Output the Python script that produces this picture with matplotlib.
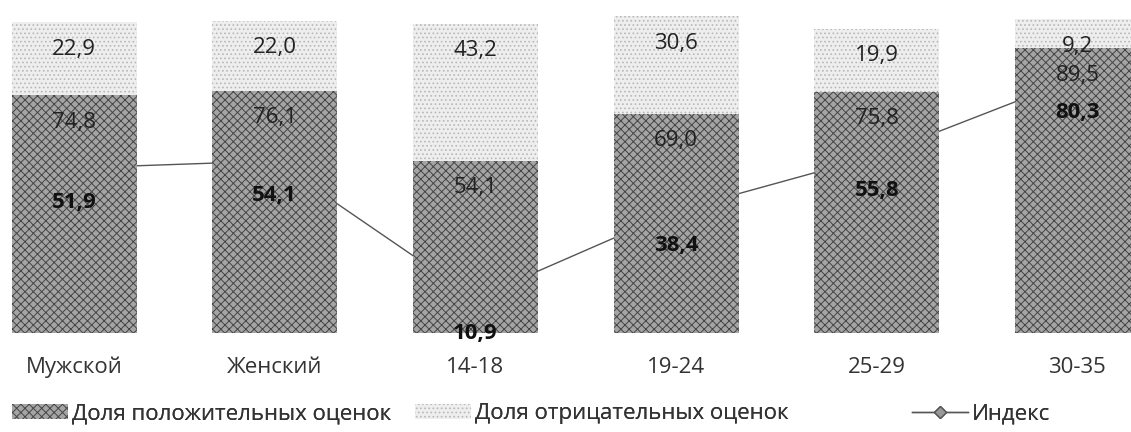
import matplotlib
matplotlib.use("Agg")
import matplotlib.pyplot as plt
from matplotlib.patches import Patch
from matplotlib.lines import Line2D

plt.rcParams['font.family'] = ['Open Sans', 'DejaVu Sans']
plt.rcParams['hatch.linewidth'] = 0.7

categories = ['Мужской', 'Женский', '14-18', '19-24', '25-29', '30-35']
positive = [74.8, 76.1, 54.1, 69.0, 75.8, 89.5]
negative = [22.9, 22.0, 43.2, 30.6, 19.9, 9.2]
index = [51.9, 54.1, 10.9, 38.4, 55.8, 80.3]

legend_labels = ['Доля положительных оценок', 'Доля отрицательных оценок', 'Индекс']


def fmt(v):
    return f"{v:.1f}".replace('.', ',')


fig = plt.figure(figsize=(11.31, 4.32), dpi=100)
ax = fig.add_axes([0, 0.229, 1, 0.771])

x = list(range(len(categories)))
width = 0.623

# index line sits behind the bars
ax.plot(x, index, color='#555555', lw=1.0, marker='D', ms=6,
        mfc='#999999', mec='#555555', zorder=1)

ax.bar(x, positive, width, color='#a4a4a4', edgecolor='#454545',
       hatch='xxxx', lw=0, zorder=2)
ax.bar(x, negative, width, bottom=positive, color='#eeeeee',
       edgecolor='#b8b8b8', hatch='....', lw=0, zorder=2)

for i in x:
    top = positive[i] + negative[i]
    ax.annotate(fmt(negative[i]), (i, top), xytext=(0, -27),
                textcoords='offset pixels', ha='center', va='center',
                fontsize=16, color='#222222', zorder=5)
    ax.annotate(fmt(positive[i]), (i, positive[i]), xytext=(0, -27),
                textcoords='offset pixels', ha='center', va='center',
                fontsize=16, color='#222222', zorder=5)
    ax.annotate(fmt(index[i]), (i, index[i]), xytext=(0, -35),
                textcoords='offset pixels', ha='center', va='center',
                fontsize=16, fontweight='bold', color='#111111', zorder=5)

ax.set_xlim(-0.369, 5.267)
ax.set_ylim(0, 104.7)
ax.set_xticks(x)
ax.set_xticklabels(categories, fontsize=16, color='#333333')
ax.tick_params(axis='x', length=0, pad=17)
ax.set_yticks([])
for s in ax.spines.values():
    s.set_visible(False)

handles = [
    Patch(facecolor='#a4a4a4', edgecolor='#454545', hatch='xxxx', lw=0),
    Patch(facecolor='#eeeeee', edgecolor='#b8b8b8', hatch='....', lw=0),
    Line2D([0], [0], color='#555555', lw=1.0, marker='D', ms=6,
           mfc='#999999', mec='#555555'),
]
# one legend per item so each can sit where the reference has it
legend_x = [12 / 1131, 415 / 1131, 912 / 1131]
for h, lab, lx in zip(handles, legend_labels, legend_x):
    leg = fig.legend([h], [lab], loc='center left', bbox_to_anchor=(lx, 0.042),
                     frameon=False, fontsize=16, handlelength=2.5,
                     handleheight=0.6, handletextpad=0.2, borderpad=0,
                     borderaxespad=0, labelcolor='#333333')
    fig.add_artist(leg)

fig.savefig('out.png', dpi=100)
